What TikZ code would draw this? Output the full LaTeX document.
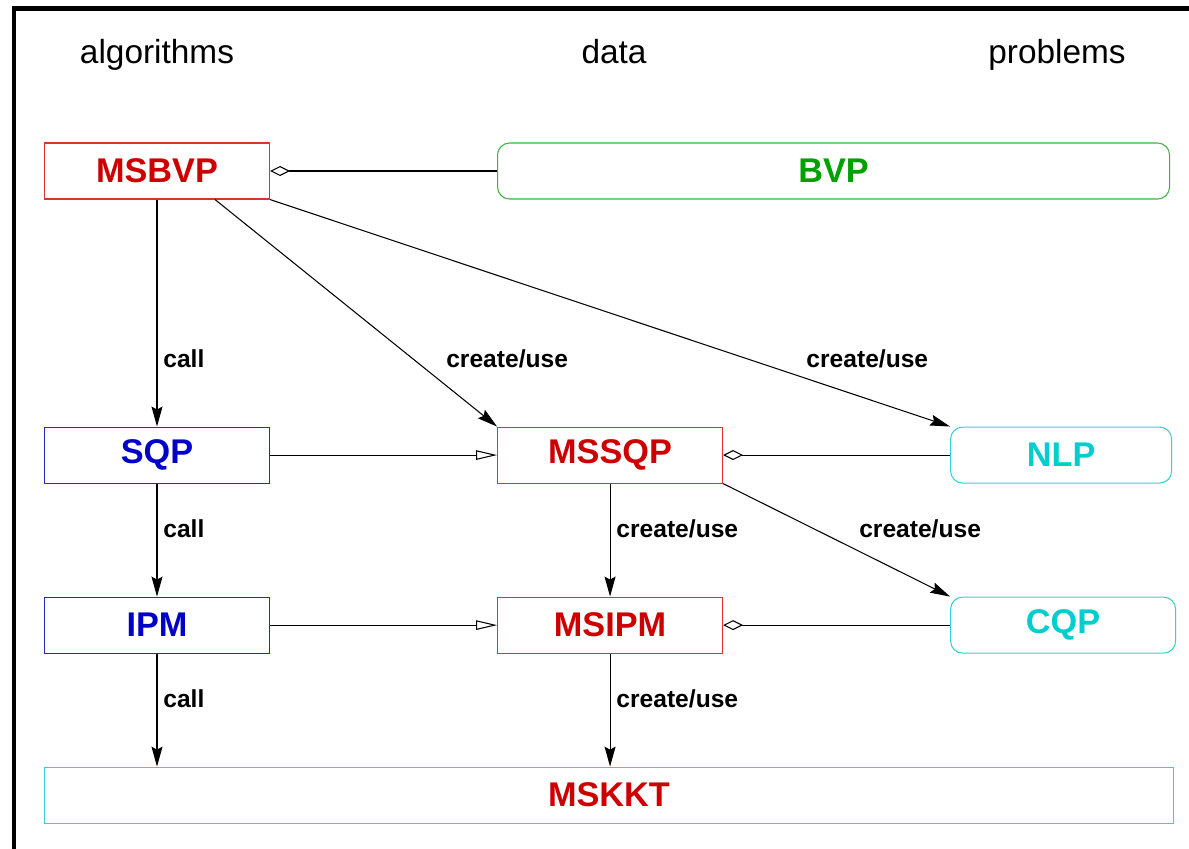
\documentclass[tikz,border=0pt]{standalone}
\usepackage{fontspec}
\setmainfont{Liberation Sans}
\usetikzlibrary{positioning,arrows.meta}

\definecolor{dred}{RGB}{204,0,0}
\definecolor{lred}{RGB}{224,48,48}
\definecolor{dblue}{RGB}{0,0,200}
\definecolor{lblue}{RGB}{40,40,200}
\definecolor{dgreen}{RGB}{0,160,0}
\definecolor{lgreen}{RGB}{60,180,60}
\definecolor{dcyan}{RGB}{0,206,206}
\definecolor{lcyan}{RGB}{50,210,210}

\begin{document}
\begin{tikzpicture}[
  node distance=2.26cm and 4.54cm,
  box/.style={draw, line width=0.6pt, minimum width=4.5cm, minimum height=1.12cm, inner sep=0pt, font=\fontsize{19.5}{22}\selectfont\bfseries},
  algbox/.style={box, draw=lblue, text=dblue},
  databox/.style={box, draw=lred, text=dred},
  probbox/.style={box, rounded corners=0.24cm, draw=lcyan, text=dcyan},
  head/.style={anchor=base, font=\fontsize{19}{22}\selectfont},
  lbl/.style={font=\fontsize{14}{16}\selectfont\bfseries},
  flow/.style={-{Stealth[length=0.4cm, width=0.22cm, inset=0.06cm]}, line width=0.6pt},
  isa/.style={-{Triangle[open, length=0.42cm, width=0.19cm]}, line width=0.6pt},
  hasa/.style={-{Diamond[open, length=0.4cm, width=0.2cm]}, line width=0.6pt}
]
\useasboundingbox (-3.14,-13.54) rectangle (20.64,3.42);

% outer frame (top and left sides)
\draw[line width=2.4pt] (-2.86,-13.7) -- (-2.86,3.25) -- (20.8,3.25);

% column titles
\node[head] (algs) at (0,2.16) {algorithms};
\node[head] (data) at (9.14,2.16) {data};
\node[head] (probs) at (18.0,2.16) {problems};

% boxes
\node[databox] (MSBVP) {MSBVP};
\node[box, right=of MSBVP, minimum width=13.44cm, rounded corners=0.24cm, draw=lgreen, text=dgreen] (BVP) {BVP};
\node[algbox, below=4.54cm of MSBVP] (SQP) {SQP};
\node[databox, right=of SQP] (MSSQP) {MSSQP};
\node[probbox, right=of MSSQP, minimum width=4.42cm] (NLP) {NLP};
\node[algbox, below=of SQP] (IPM) {IPM};
\node[databox, right=of IPM] (MSIPM) {MSIPM};
\node[probbox, right=of MSIPM] (CQP) {CQP};
\node[box, below=of IPM.south west, anchor=north west, minimum width=22.58cm, draw=lcyan, text=dred] (MSKKT) {MSKKT};

% calls between algorithms
\draw[flow] (MSBVP.south) -- (SQP.north) node[lbl, pos=0.7, right] {call};
\draw[flow] (SQP.south) -- (IPM.north) node[lbl, pos=0.4, right] {call};
\draw[flow] (IPM.south) -- (IPM.south |- MSKKT.north) node[lbl, pos=0.4, right] {call};

% create/use
\draw[flow] ([xshift=1.16cm]MSBVP.south) -- (MSSQP.north west) node[lbl, pos=0.7, right=0.55cm] {create/use};
\draw[flow] (MSBVP.south east) -- (NLP.north west) node[lbl, pos=0.7, right=1.08cm] {create/use};
\draw[flow] (MSSQP.south) -- (MSIPM.north) node[lbl, pos=0.4, right] {create/use};
\draw[flow] (MSSQP.south east) -- (CQP.north west) node[lbl, pos=0.4, right=0.78cm] {create/use};
\draw[flow] (MSIPM.south) -- (MSIPM.south |- MSKKT.north) node[lbl, pos=0.4, right] {create/use};

% inheritance
\draw[isa] (SQP.east) -- (MSSQP.west);
\draw[isa] (IPM.east) -- (MSIPM.west);

% aggregation
\draw[hasa] (BVP.west) -- (MSBVP.east);
\draw[hasa] (NLP.west) -- (MSSQP.east);
\draw[hasa] (CQP.west) -- (MSIPM.east);
\end{tikzpicture}
\end{document}
